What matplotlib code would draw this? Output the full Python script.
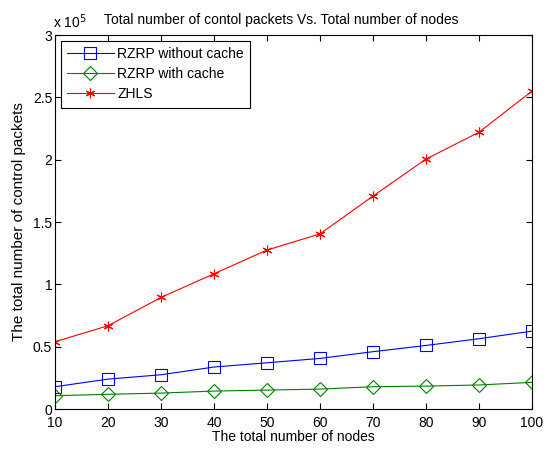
import matplotlib
matplotlib.use("Agg")
import matplotlib.pyplot as plt
from matplotlib.ticker import FuncFormatter

plt.rcParams['font.family'] = ['Liberation Sans', 'DejaVu Sans']

# data
nodes = [10, 20, 30, 40, 50, 60, 70, 80, 90, 100]
rzrp_no_cache = [17900, 24000, 27500, 33700, 37100, 40600, 46000, 51000, 56400, 62500]
rzrp_cache = [10700, 11800, 12800, 14400, 15200, 16000, 17900, 18400, 19300, 21400]
zhls = [54000, 66800, 89500, 108500, 127500, 140500, 170800, 200500, 222000, 255000]

fig = plt.figure(figsize=(5.47, 4.49), dpi=100)
ax = fig.add_axes([0.1005, 0.089, 0.872, 0.833])

ax.plot(nodes, rzrp_no_cache, color='#0000ff', lw=0.8, marker='s', ms=8,
        mfc='none', mec='#0000ff', mew=0.8, label='RZRP without cache')
ax.plot(nodes, rzrp_cache, color='#008000', lw=0.8, marker='D', ms=7,
        mfc='none', mec='#008000', mew=0.8, label='RZRP with cache')
ax.plot(nodes, zhls, color='#ff0000', lw=0.8, marker=(6, 2, 0), ms=7,
        mec='#ff0000', mew=0.8, label='ZHLS')

ax.set_xlim(10, 100)
ax.set_ylim(0, 300000)
ax.set_xticks(nodes)
ax.set_yticks([0, 50000, 100000, 150000, 200000, 250000, 300000])
ax.yaxis.set_major_formatter(FuncFormatter(lambda v, _: f"{v / 1e5:g}"))
ax.tick_params(direction='in', top=True, right=True, labelsize=10, length=4)
ax.tick_params(axis='x', pad=5)
ax.tick_params(axis='y', pad=2)
for s in ax.spines.values():
    s.set_linewidth(0.8)

ax.text(-0.005, 1.01, r'x 10$^5$', transform=ax.transAxes, fontsize=10,
        ha='left', va='bottom')
ax.set_title('Total number of contol packets Vs. Total number of nodes',
             fontsize=10, pad=8, x=0.474)
ax.set_xlabel('The total number of nodes', fontsize=10, labelpad=0)
ax.set_ylabel('The total number of control packets', fontsize=11, labelpad=5)

leg = ax.legend(loc='upper left', fontsize=10, fancybox=False, edgecolor='black',
                framealpha=1, borderaxespad=0.4, handlelength=3.4,
                handletextpad=0.25, labelspacing=0.45, borderpad=0.45)
leg.get_frame().set_linewidth(0.8)

fig.savefig('out.png', dpi=100)
